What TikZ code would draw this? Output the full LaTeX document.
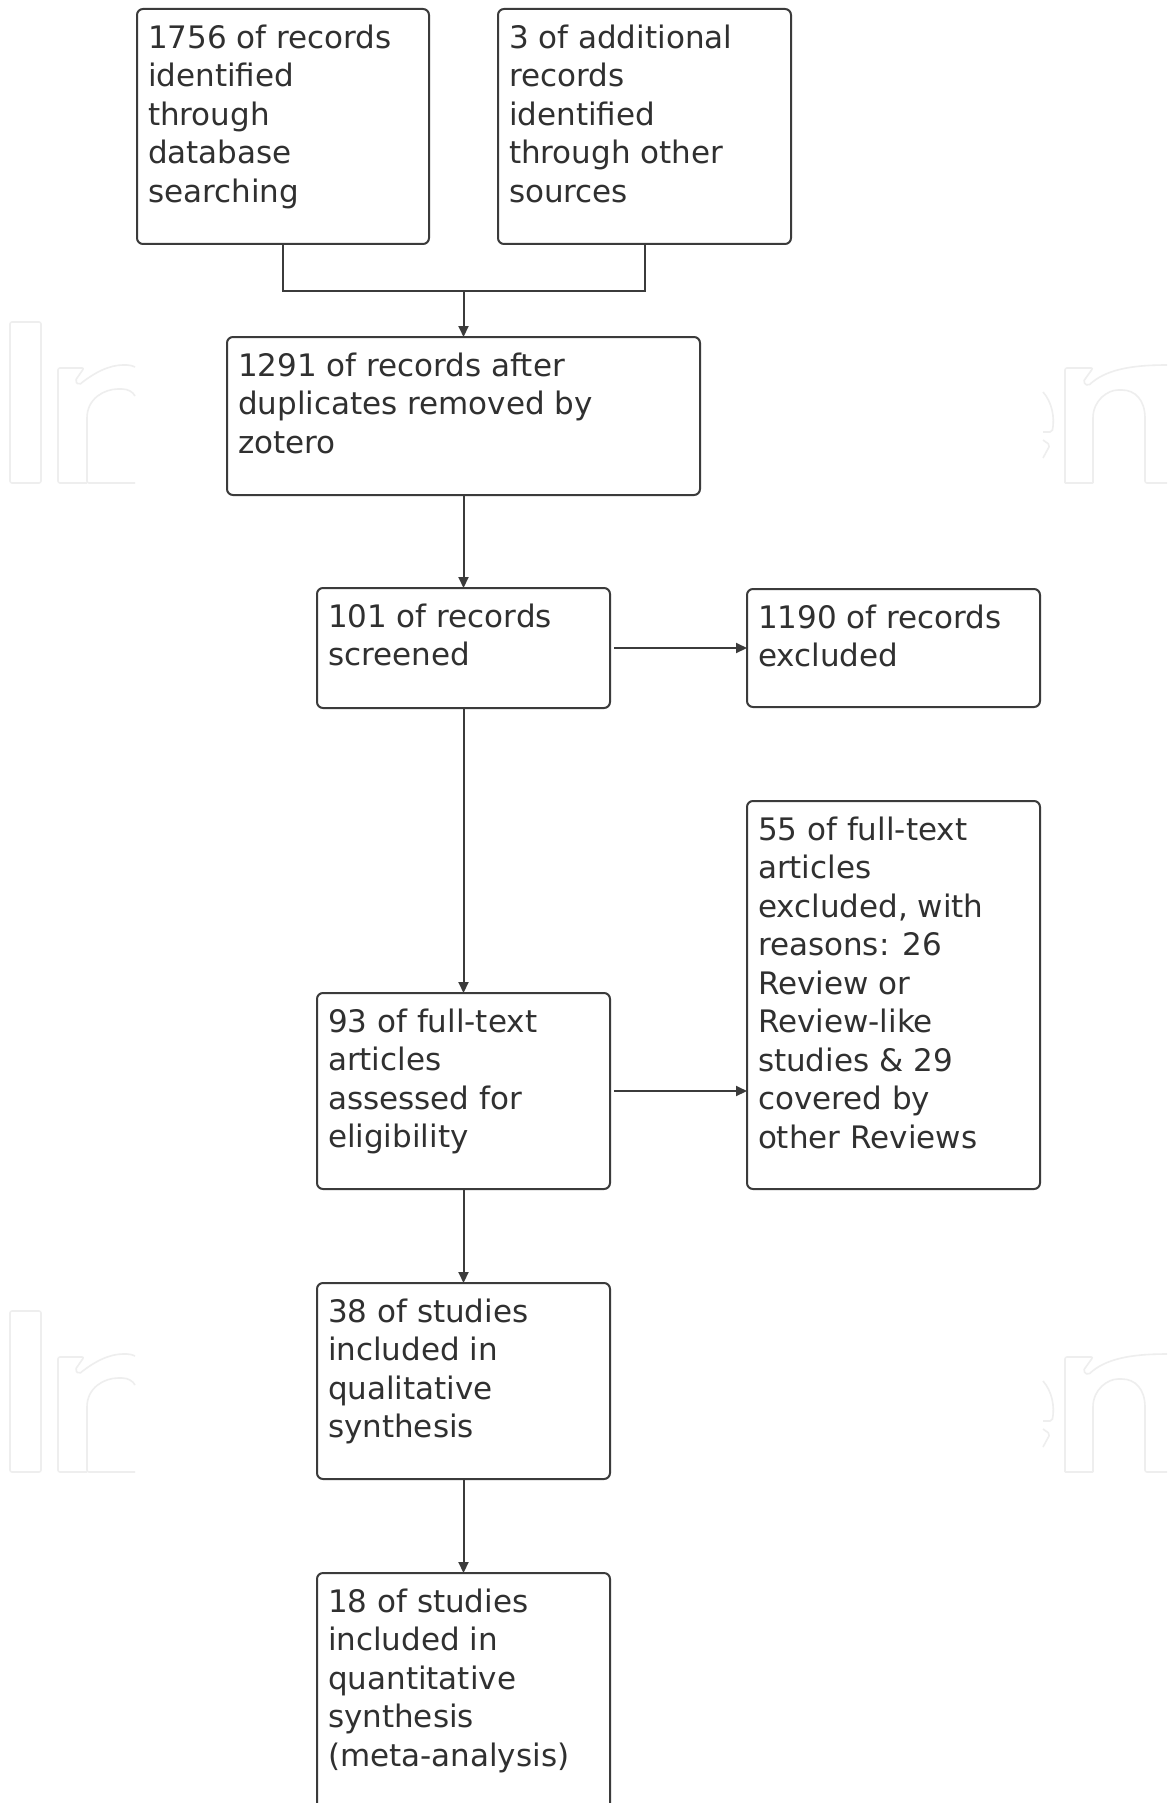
\documentclass[tikz,border=0pt]{standalone}
\usepackage{fontspec}
\setmainfont{DejaVu Sans}
\usetikzlibrary{arrows.meta}
\definecolor{ln}{HTML}{3B3B3B}
\definecolor{tx}{HTML}{303030}
\definecolor{wm}{HTML}{EEEEEE}
\tikzset{
  box/.style={draw=ln, line width=2pt, rounded corners=6pt, inner sep=0pt, outer sep=0pt},
  txt/.style={anchor=north west, inner sep=0pt, outer sep=0pt, align=left, text=tx,
    font=\fontsize{31}{38.5}\selectfont, xshift=11pt, yshift=-15.5pt},
  conn/.style={draw=ln, line width=2pt},
  arr/.style={conn, -{Triangle[length=11pt,width=10pt]}},
  wmk/.style={draw=wm, line width=1.6pt, rounded corners=2pt}
}
\newcommand{\wmarkgroup}[1]{%
  \begin{scope}[yshift=-#1pt]
    \draw[wmk] (10,322) rectangle (41,483);
    \draw[wmk] (135,483) -- (87,483) -- (87,420) .. controls (87,398) and (105,389) .. (120,389) .. controls (128,389) and (133,392) .. (135,396);
    \draw[wmk] (87,483) -- (58,483) -- (58,368) -- (84,368) -- (75,381) -- (79,385) .. controls (95,372) and (110,365) .. (125,365) .. controls (130,365) and (133,366) .. (135,367);
    \draw[wmk] (1043,392) .. controls (1052,402) and (1055,418) .. (1052,432) -- (1043,432);
    \draw[wmk] (1043,440) -- (1050,445) -- (1043,458);
    \draw[wmk] (1065,483) -- (1065,368) -- (1093,368) -- (1083,382) -- (1088,386) .. controls (1105,370) and (1130,365) .. (1167,365);
    \draw[wmk] (1093,483) -- (1065,483);
    \draw[wmk] (1093,483) -- (1093,420) .. controls (1093,400) and (1108,390) .. (1120,390) .. controls (1135,390) and (1145,400) .. (1145,420) -- (1145,483) -- (1167,483);
  \end{scope}}
\begin{document}
\begin{tikzpicture}[x=1pt, y=-1pt]
\useasboundingbox (0,0) rectangle (1167,1803);
\clip (0,0) rectangle (1167,1803);
\fill[white] (0,0) rectangle (1167,1803);
\wmarkgroup{0}
\wmarkgroup{989}

\node[box, minimum width=292pt, minimum height=235pt] (b1) at (283,126.5) {};
\node[box, minimum width=293pt, minimum height=235pt] (b2) at (644.5,126.5) {};
\node[box, minimum width=473pt, minimum height=158pt] (b3) at (463.5,416) {};
\node[box, minimum width=293pt, minimum height=120pt] (b4) at (463.5,648) {};
\node[box, minimum width=293pt, minimum height=118pt] (b5) at (893.5,648) {};
\node[box, minimum width=293pt, minimum height=388pt] (b6) at (893.5,995) {};
\node[box, minimum width=293pt, minimum height=196pt] (b7) at (463.5,1091) {};
\node[box, minimum width=293pt, minimum height=196pt] (b8) at (463.5,1381) {};
\node[box, minimum width=293pt, minimum height=257pt] (b9) at (463.5,1701.5) {};

\node[txt] (t1) at (b1.north west) {1756 of records\\identified\\through\\database\\searching};
\node[txt] (t2) at (b2.north west) {3 of additional\\records\\identified\\through other\\sources};
\node[txt] (t3) at (b3.north west) {1291 of records after\\duplicates removed by\\zotero};
\node[txt] (t4) at (b4.north west) {101 of records\\screened};
\node[txt] (t5) at (b5.north west) {1190 of records\\excluded};
\node[txt] (t6) at (b6.north west) {55 of full-text\\articles\\excluded, with\\reasons: 26\\Review or\\Review-like\\studies \& 29\\covered by\\other Reviews};
\node[txt] (t7) at (b7.north west) {93 of full-text\\articles\\assessed for\\eligibility};
\node[txt] (t8) at (b8.north west) {38 of studies\\included in\\qualitative\\synthesis};
\node[txt] (t9) at (b9.north west) {18 of studies\\included in\\quantitative\\synthesis\\(meta-analysis)};

\coordinate (m) at (463.5,291);
\draw[conn] (b1.south) |- (m);
\draw[conn] (b2.south) |- (m);
\draw[arr] (m) -- (b3.north);
\draw[arr] (b3.south) -- (b4.north);
\draw[arr] ([xshift=4pt]b4.east) -- (b5.west);
\draw[arr] (b4.south) -- (b7.north);
\draw[arr] ([xshift=4pt]b7.east) -- (b7.east -| b6.west);
\draw[arr] (b7.south) -- (b8.north);
\draw[arr] (b8.south) -- (b9.north);
\end{tikzpicture}
\end{document}
